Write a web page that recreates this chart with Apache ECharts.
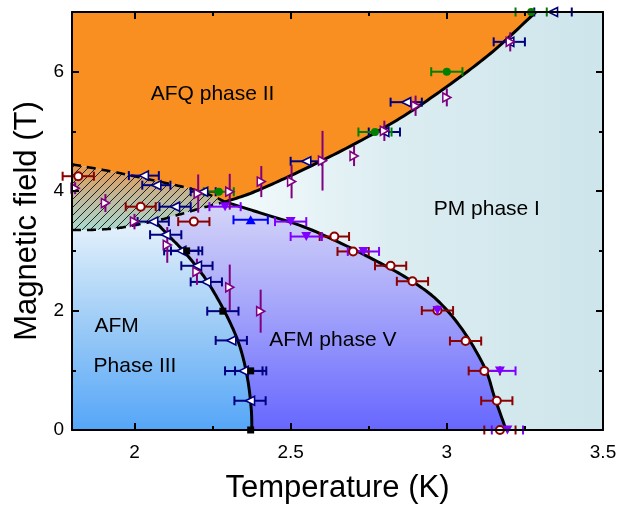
<!DOCTYPE html>
<html><head><meta charset="utf-8">
<script src="https://cdn.jsdelivr.net/npm/echarts@6/dist/echarts.min.js"></script>
<style>html,body{margin:0;padding:0;background:#fff}#c{width:631px;height:507px}</style>
</head><body><div id="c"></div>
<script>
// ---- tick labels ----
const xTicks = [2, 2.5, 3, 3.5];
const xMinorTicks = [2.25, 2.75, 3.25];
const yTicks = [0, 2, 4, 6];
const yMinorTicks = [1, 3, 5, 7];

// ---- phase boundaries [T (K), B (T)] ----
const boundaryII_I = [[2.29,3.82],[2.37,3.96],[2.5,4.26],[2.69,4.75],[2.85,5.22],[3.0,5.75],[3.15,6.35],[3.285,7.0]];
const boundaryV_I = [[2.29,3.82],[2.40,3.64],[2.553,3.38],[2.767,2.85],[2.895,2.47],[2.97,2.17],[3.05,1.68],[3.125,1.0],[3.152,0.56],[3.19,0]];
const boundaryIII_V = [[2.065,3.50],[2.11,3.25],[2.16,2.98],[2.225,2.55],[2.286,2.01],[2.334,1.45],[2.361,0.89],[2.374,0.34],[2.376,0]];
const hatchTop = [[1.8,4.45],[1.955,4.30],[2.105,4.13],[2.18,4.04],[2.254,3.91],[2.29,3.82]];
const hatchBottom = [[1.8,3.35],[1.86,3.35],[1.945,3.38],[2.0,3.43],[2.083,3.52],[2.158,3.63],[2.21,3.71],[2.29,3.82]];

// ---- measured points [T, B, error] ----
const redCircles = [[1.82,4.25,0.05],[2.02,3.74,0.048],[2.19,3.49,0.05],[2.64,3.24,0.047],[2.70,2.99,0.05],[2.82,2.75,0.05],[2.89,2.49,0.05],[2.97,2.0,0.05],[3.06,1.49,0.05],[3.12,0.99,0.05],[3.16,0.49,0.05],[3.17,0.0,0.05]];
const navyLeftTri = [[2.03,4.26,0.048],[2.07,4.10,0.045],[2.13,3.74,0.05],[2.06,3.49,0.05],[2.10,3.27,0.05],[2.15,3.0,0.055],[2.20,2.75,0.05],[2.23,2.48,0.05],[2.31,1.50,0.05],[2.35,0.99,0.06],[2.37,0.49,0.05],[2.22,3.99,0.04],[2.55,4.50,0.05],[2.80,4.99,0.05],[2.87,5.49,0.05],[3.20,6.50,0.05],[3.34,7.0,0.06]];
const purpleRightTri = [[1.81,4.05,0.1],[1.907,3.80,0.15],[2.0,3.49,0.13],[2.105,3.10,0.3],[2.20,2.65,0.22],[2.305,2.39,0.38],[2.404,1.99,0.36],[2.204,3.96,0.32],[2.305,3.99,0.3],[2.406,4.16,0.26],[2.503,4.16,0.28],[2.602,4.51,0.5],[2.703,4.59,0.17],[2.80,5.01,0.17],[2.90,5.43,0.17],[3.0,5.57,0.15],[3.203,6.5,0.16]];
const greenCircles = [[2.27,3.99,0.048],[2.77,4.99,0.053],[3.0,6.0,0.05],[3.27,7.0,0.05]];
const blueUpTri = [[2.372,3.52,0.055]];
const violetDownTri = [[2.29,3.74,0.05],[2.50,3.49,0.05],[2.55,3.24,0.05],[2.733,2.99,0.05],[2.97,2.0,0.0],[3.17,0.99,0.05],[3.194,0.0,0.05]];
const blackSquares = [[2.167,3.0,0.05],[2.283,1.99,0.05],[2.372,0.99,0.05],[2.372,0.0,0.0]];

const phaseLabels = [
  {text:'AFQ phase II', at:[2.25,5.63], align:'center'},
  {text:'PM phase I', at:[3.128,3.70], align:'center'},
  {text:'AFM phase V', at:[2.635,1.51], align:'center'},
  {text:'AFM', at:[1.872,1.74], align:'left'},
  {text:'Phase III', at:[1.869,1.07], align:'left'}
];

const X0 = 1.8, X1 = 3.5, Y0 = 0, Y1 = 7;
const rev = a => a.slice().reverse();
const LG = echarts.graphic.LinearGradient;
const FONT = 'Liberation Sans, Arial, sans-serif';

// centripetal Catmull-Rom through pixel points (drawing only)
function spline(pts, n) {
  n = n || 14;
  if (pts.length < 3) return pts.slice();
  const L = pts.length;
  const P = [[2*pts[0][0]-pts[1][0], 2*pts[0][1]-pts[1][1]], ...pts,
             [2*pts[L-1][0]-pts[L-2][0], 2*pts[L-1][1]-pts[L-2][1]]];
  const d = (a,b) => Math.max(1e-6, Math.pow(Math.hypot(b[0]-a[0], b[1]-a[1]), 0.5));
  const out = [];
  for (let i = 1; i < P.length-2; i++) {
    const p0=P[i-1], p1=P[i], p2=P[i+1], p3=P[i+2];
    const t0=0, t1=t0+d(p0,p1), t2=t1+d(p1,p2), t3=t2+d(p2,p3);
    for (let j = 0; j < n; j++) {
      const t = t1 + (t2-t1)*j/n;
      const lp = (a,b,ta,tb) => [((tb-t)*a[0]+(t-ta)*b[0])/(tb-ta), ((tb-t)*a[1]+(t-ta)*b[1])/(tb-ta)];
      const A1=lp(p0,p1,t0,t1), A2=lp(p1,p2,t1,t2), A3=lp(p2,p3,t2,t3);
      const B1=lp(A1,A2,t0,t2), B2=lp(A2,A3,t1,t3);
      out.push(lp(B1,B2,t1,t2));
    }
  }
  out.push(pts[L-1]);
  return out;
}
const px = (api, arr) => arr.map(p => api.coord(p));
const sp = (api, arr) => spline(px(api, arr));

// region builders (pixel space, using the same smoothed boundaries as the lines)
const regions = {
  PM: api => px(api, [[X0,Y0],[X1,Y0],[X1,Y1],[X0,Y1]]),
  II: api => [api.coord([X0,Y1]), ...rev(sp(api, boundaryII_I)), ...rev(sp(api, hatchTop))],
  hatch: api => [...sp(api, hatchTop), ...rev(sp(api, hatchBottom))],
  III: api => {
    const j = api.coord(boundaryIII_V[0]);
    const hb = sp(api, hatchBottom).filter(p => p[0] < j[0]);
    return [api.coord([X0,Y0]), ...rev(sp(api, boundaryIII_V)), ...rev(hb)];
  },
  V: api => {
    const j = api.coord(boundaryIII_V[0]);
    const hb = sp(api, hatchBottom).filter(p => p[0] > j[0]);
    return [...rev(sp(api, boundaryV_I)), ...rev(hb), ...sp(api, boundaryIII_V)];
  }
};

function region(key, fill, z) {
  return {type:'custom', silent:true, z, clip:true, animation:false,
    data:[[X0, Y0]],
    renderItem(params, api){
      return {type:'polygon', shape:{points:regions[key](api)}, style:{fill}};
    }};
}

function hatchSeries(fill, z) {
  return {type:'custom', silent:true, z, clip:true, animation:false,
    data:[[X0, Y0]],
    renderItem(params, api){
      const pts = regions.hatch(api);
      const children = [{type:'polygon', shape:{points:pts}, style:{fill}}];
      let mn = Infinity, mx = -Infinity;
      pts.forEach(p => { const s = p[0]+p[1]; mn = Math.min(mn,s); mx = Math.max(mx,s); });
      const step = 8;
      for (let c = Math.ceil(mn/step)*step; c <= mx; c += step) {
        const hits = [];
        for (let i = 0; i < pts.length; i++) {
          const a = pts[i], b = pts[(i+1)%pts.length];
          const fa = a[0]+a[1]-c, fb = b[0]+b[1]-c;
          if ((fa < 0) !== (fb < 0)) {
            const t = fa/(fa-fb);
            hits.push([a[0]+t*(b[0]-a[0]), a[1]+t*(b[1]-a[1])]);
          }
        }
        hits.sort((u,v) => u[0]-v[0]);
        for (let k = 0; k+1 < hits.length; k += 2) {
          children.push({type:'line', shape:{x1:hits[k][0],y1:hits[k][1],x2:hits[k+1][0],y2:hits[k+1][1]}, style:{stroke:'#111', lineWidth:0.9}});
        }
      }
      return {type:'group', children};
    }};
}

function curve(data, dashed) {
  return {type:'custom', silent:true, z:4, clip:true, animation:false,
    data:[data[0]],
    renderItem(params, api){
      return {type:'polyline', shape:{points: sp(api, data)},
        style:{stroke:'#000', fill:null, lineWidth: dashed ? 2.6 : 3, lineDash: dashed ? [9,6] : null, lineCap:'butt', lineJoin:'round'}};
    }};
}

function hErr(pts, color) {
  return {type:'custom', silent:true, z:5, animation:false,
    data: pts.filter(p => p[2] > 0),
    renderItem(params, api){
      const x = api.value(0), y = api.value(1), e = api.value(2);
      const a = api.coord([x-e,y]), b = api.coord([x+e,y]);
      const st = {stroke:color, lineWidth:2};
      return {type:'group', children:[
        {type:'line', shape:{x1:a[0],y1:a[1],x2:b[0],y2:b[1]}, style:st},
        {type:'line', shape:{x1:a[0],y1:a[1]-4.5,x2:a[0],y2:a[1]+4.5}, style:st},
        {type:'line', shape:{x1:b[0],y1:b[1]-4.5,x2:b[0],y2:b[1]+4.5}, style:st}]};
    }};
}

function vErr(pts, color) {
  return {type:'custom', silent:true, z:5, animation:false,
    data: pts,
    renderItem(params, api){
      const x = api.value(0), y = api.value(1), e = api.value(2);
      const a = api.coord([x,y-e]), b = api.coord([x,y+e]);
      return {type:'line', shape:{x1:a[0],y1:a[1],x2:b[0],y2:b[1]}, style:{stroke:color, lineWidth:2}};
    }};
}

function markers(pts, symbol, size, fill, border, bw) {
  return {type:'scatter', data: pts.map(p => [p[0],p[1]]), symbol, symbolSize:size, z:6, silent:true, animation:false,
    itemStyle:{color:fill, borderColor:border, borderWidth:bw, opacity:1}};
}

const LEFT_TRI = 'path://M0,5 L10,0 L10,10 Z';
const RIGHT_TRI = 'path://M10,5 L0,0 L0,10 Z';
const DOWN_TRI = 'path://M0,0 L10,0 L5,10 Z';
const UP_TRI = 'path://M5,0 L10,10 L0,10 Z';

const axisBase = (pos, isX, ticks, len, showLine, showLabel, extra) => Object.assign({
  type:'value', position:pos, min: isX ? X0 : Y0, max: isX ? X1 : Y1, z:10,
  axisLine:{show:showLine, onZero:false, lineStyle:{color:'#000', width:2}},
  axisTick:{show:true, inside:true, length:len, customValues:ticks, lineStyle:{color:'#000', width:2}},
  axisLabel:{show:showLabel, customValues:ticks, color:'#000', fontSize:19, fontFamily:FONT, margin: isX ? 13 : 8},
  splitLine:{show:false}, minorTick:{show:false}
}, extra || {});

const option = {
  animation:false,
  backgroundColor:'#fff',
  grid:{left:72, right:28, top:12, bottom:77, containLabel:false, outerBoundsMode:'none'},
  xAxis:[
    axisBase('bottom', true, xTicks, 7, true, true, {name:'Temperature (K)', nameLocation:'middle', nameGap:43,
      nameTextStyle:{fontSize:31, color:'#000', fontFamily:FONT}}),
    axisBase('bottom', true, xMinorTicks, 4, false, false),
    axisBase('top', true, xTicks, 7, true, false),
    axisBase('top', true, xMinorTicks, 4, false, false)
  ],
  yAxis:[
    axisBase('left', false, yTicks, 7, true, true, {name:'Magnetic field (T)', nameLocation:'middle', nameGap:28,
      nameTextStyle:{fontSize:31, color:'#000', fontFamily:FONT}}),
    axisBase('left', false, yMinorTicks, 4, false, false),
    axisBase('right', false, yTicks, 7, true, false),
    axisBase('right', false, yMinorTicks, 4, false, false)
  ],
  series:[
    region('PM', new LG(0,0,1,0,[{offset:0,color:'#ffffff'},{offset:0.28,color:'#f4fbfc'},{offset:0.6,color:'#dcedf1'},{offset:1,color:'#cde5eb'}]), 1),
    region('II', '#f98f20', 2),
    region('III', new LG(0,0,0,1,[{offset:0,color:'#e6f2fc'},{offset:0.5,color:'#9ccbf6'},{offset:1,color:'#55a6f8'}]), 2),
    region('V', new LG(0,0,0,1,[{offset:0,color:'#d6d6f8'},{offset:0.5,color:'#a0a0fb'},{offset:1,color:'#6767ff'}]), 2),
    hatchSeries(new LG(0,0,0,1,[{offset:0,color:'#e7974a'},{offset:0.5,color:'#c0b79a'},{offset:1,color:'#a9d9cf'}]), 3),
    curve(boundaryII_I, false),
    curve(boundaryV_I, false),
    curve(boundaryIII_V, false),
    curve(hatchTop, true),
    curve(hatchBottom, true),
    hErr(redCircles, '#8b0000'),
    hErr(navyLeftTri, '#000080'),
    hErr(blackSquares, '#000080'),
    hErr(greenCircles, '#008000'),
    hErr(blueUpTri, '#0000ff'),
    hErr(violetDownTri, '#8000ff'),
    vErr(purpleRightTri, '#800080'),
    markers(redCircles, 'circle', 8, '#ffffff', '#8b0000', 2),
    markers(navyLeftTri, LEFT_TRI, [9,9], '#ffffff', '#000080', 1.6),
    markers(purpleRightTri, RIGHT_TRI, [8,9], '#ffffff', '#800080', 1.6),
    markers(greenCircles, 'circle', 8, '#008000', '#008000', 0),
    markers(blueUpTri, UP_TRI, [10,9], '#0000ff', '#0000ff', 0),
    markers(violetDownTri, DOWN_TRI, [10,9], '#8000ff', '#8000ff', 0),
    markers(blackSquares, 'rect', 7, '#000000', '#000000', 0),
    {type:'custom', silent:true, z:7, animation:false,
      data: phaseLabels.map(l => [l.at[0], l.at[1]]),
      renderItem(params, api){
        const l = phaseLabels[params.dataIndex];
        const p = api.coord(l.at);
        return {type:'text', x:p[0], y:p[1], style:{text:l.text, fontSize:21, fontFamily:FONT, fill:'#000', align:l.align, verticalAlign:'middle'}};
      }}
  ]
};

const chart = echarts.init(document.getElementById('c'));
chart.setOption(option);
</script>
</body></html>
